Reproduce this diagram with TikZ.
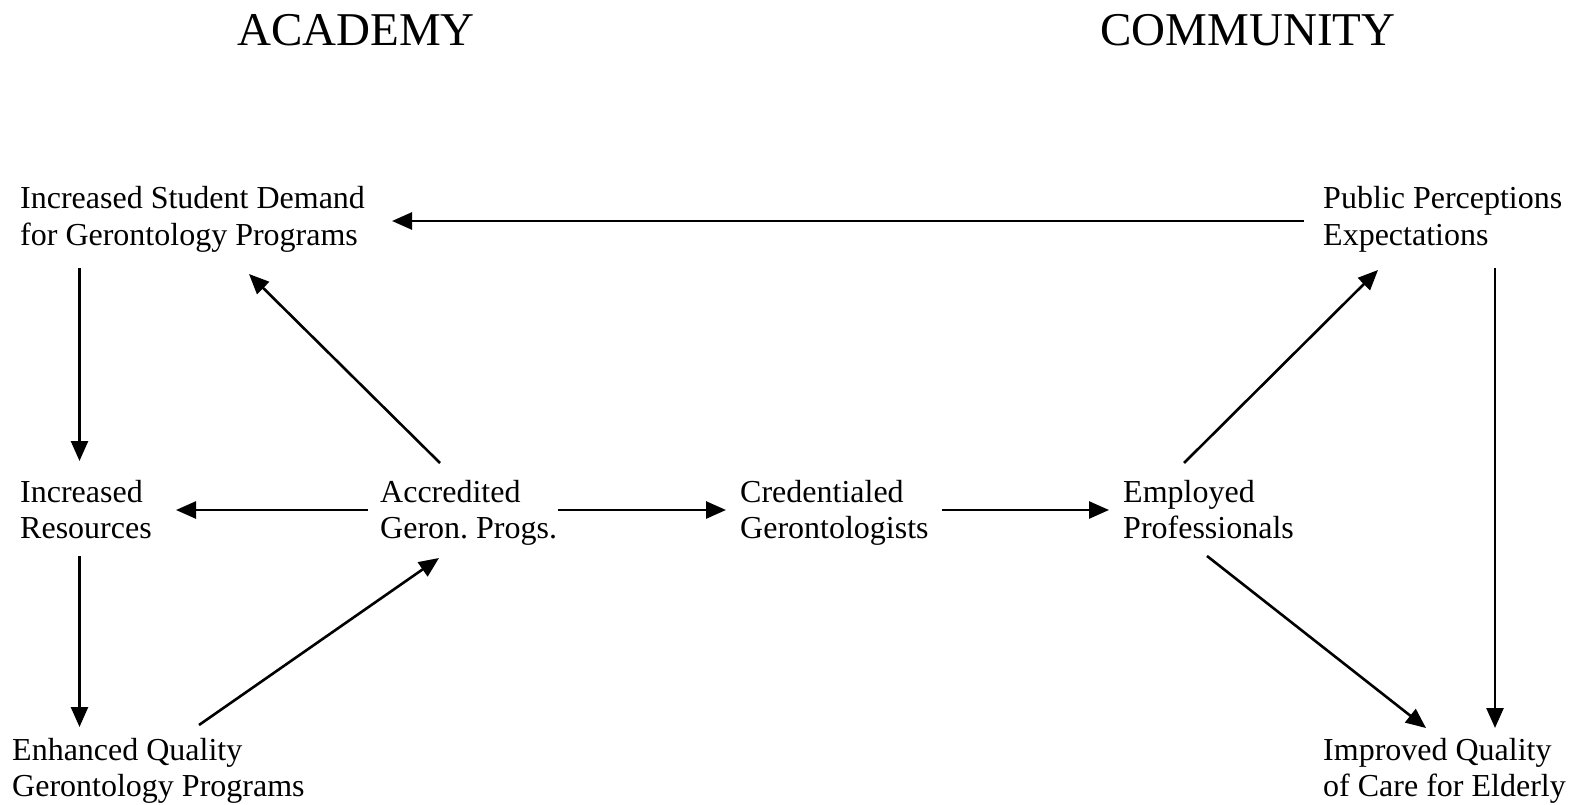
\documentclass[tikz,border=0pt]{standalone}
\usepackage{fontspec}
\setmainfont{Liberation Serif}
\usetikzlibrary{arrows.meta}
\frenchspacing
\begin{document}
\begin{tikzpicture}[x=1pt,y=-1pt,
  lbl/.style={anchor=base west,inner sep=0pt,align=left,font=\fontsize{32}{36}\selectfont},
  head/.style={anchor=base,inner sep=0pt,font=\fontsize{47}{50}\selectfont},
  arr/.style={line width=2.6pt,-{Triangle[length=20pt,width=17pt]}}]
\useasboundingbox (0,0) rectangle (1577,805);
\node[head] (hA) at (356,46) {ACADEMY};
\node[head] (hC) at (1248,46) {COMMUNITY};
\node[lbl] (dem) at (20,245) {Increased Student Demand\\for Gerontology Programs};
\node[lbl] (pub) at (1323,245) {Public Perceptions\\Expectations};
\node[lbl] (res) at (20,538) {Increased\\Resources};
\node[lbl] (acc) at (380,538) {Accredited\\Geron.\ Progs.};
\node[lbl] (cre) at (740,538) {Credentialed\\Gerontologists};
\node[lbl] (emp) at (1123,538) {Employed\\Professionals};
\node[lbl] (enh) at (12,796) {Enhanced Quality\\Gerontology Programs};
\node[lbl] (imp) at (1323,796) {Improved Quality\\of Care for Elderly};
\draw[arr] ([shift={(-19,-24)}]pub.base west) -- ([shift={(372,-24)}]dem.base west);
\draw[arr] ([shift={(59.5,23)}]dem.base west) -- ([shift={(59.5,-77)}]res.base west);
\draw[arr] ([shift={(60,-75)}]acc.base west) -- ([shift={(229,29)}]dem.base west);
\draw[arr] ([shift={(-12,-28)}]acc.base west) -- ([shift={(156,-28)}]res.base west);
\draw[arr] ([shift={(59.5,18)}]res.base west) -- ([shift={(67.5,-69)}]enh.base west);
\draw[arr] ([shift={(187,-71)}]enh.base west) -- ([shift={(59,20)}]acc.base west);
\draw[arr] ([shift={(178,-28)}]acc.base west) -- ([shift={(-14,-28)}]cre.base west);
\draw[arr] ([shift={(202,-28)}]cre.base west) -- ([shift={(-14,-28)}]emp.base west);
\draw[arr] ([shift={(61,-75)}]emp.base west) -- ([shift={(55,25)}]pub.base west);
\draw[arr] ([shift={(172,23)}]pub.base west) -- ([shift={(172,-68)}]imp.base west);
\draw[arr] ([shift={(84,18)}]emp.base west) -- ([shift={(103,-68)}]imp.base west);
\end{tikzpicture}
\end{document}
